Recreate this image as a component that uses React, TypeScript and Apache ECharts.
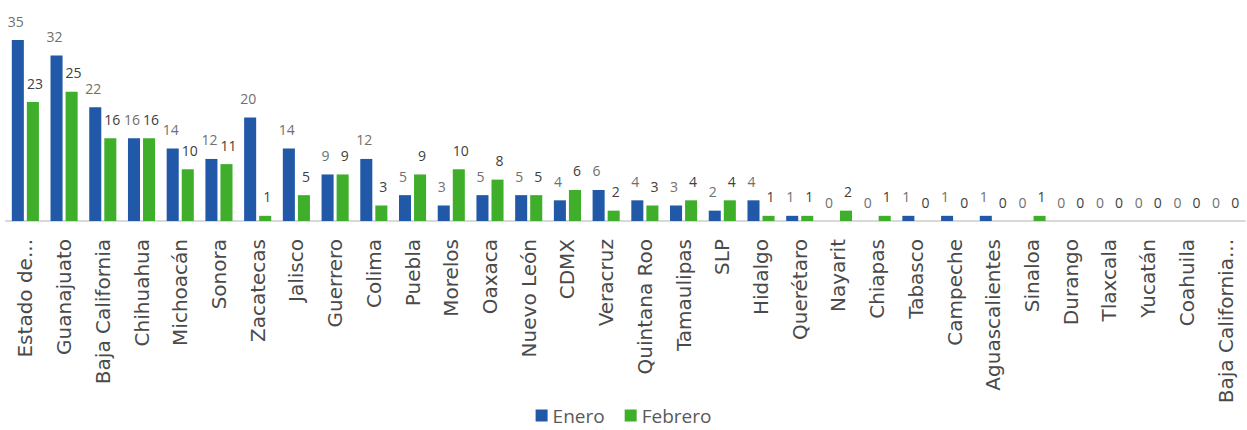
import React, { useEffect, useRef } from "react";
import * as echarts from "echarts";

const categories = [
  "Estado de...", "Guanajuato", "Baja California", "Chihuahua", "Michoacán", "Sonora",
  "Zacatecas", "Jalisco", "Guerrero", "Colima", "Puebla", "Morelos", "Oaxaca",
  "Nuevo León", "CDMX", "Veracruz", "Quintana Roo", "Tamaulipas", "SLP", "Hidalgo",
  "Querétaro", "Nayarit", "Chiapas", "Tabasco", "Campeche", "Aguascalientes",
  "Sinaloa", "Durango", "Tlaxcala", "Yucatán", "Coahuila", "Baja California...",
];
const enero = [35, 32, 22, 16, 14, 12, 20, 14, 9, 12, 5, 3, 5, 5, 4, 6, 4, 3, 2, 4, 1, 0, 0, 1, 1, 1, 0, 0, 0, 0, 0, 0];
const febrero = [23, 25, 16, 16, 10, 11, 1, 5, 9, 3, 9, 10, 8, 5, 6, 2, 3, 4, 4, 1, 1, 2, 1, 0, 0, 0, 1, 0, 0, 0, 0, 0];

export default function App() {
  const ref = useRef<HTMLDivElement>(null);
  useEffect(() => {
    if (!ref.current) return;
    const chart = echarts.init(ref.current, null, { renderer: "svg" });
    chart.setOption({
      animation: false,
      backgroundColor: "#ffffff",
      grid: { left: 6, right: 2, top: 40, bottom: 209, containLabel: false },
      legend: {
        bottom: 0,
        left: "center",
        itemWidth: 12,
        itemHeight: 12,
        itemGap: 20,
        icon: "rect",
        textStyle: { fontFamily: "Open Sans", fontSize: 19, color: "#595959" },
        data: ["Enero", "Febrero"],
      },
      xAxis: {
        type: "category",
        data: categories,
        axisLine: { show: true, lineStyle: { color: "#d9d9d9", width: 2 } },
        axisTick: { show: false },
        axisLabel: {
          rotate: 90,
          interval: 0,
          margin: 18,
          fontFamily: "DejaVu Sans",
          fontSize: 20,
          color: "#4a4a4a",
        },
      },
      yAxis: { type: "value", min: 0, max: 35, show: false, splitLine: { show: false } },
      series: [
        {
          name: "Enero",
          type: "bar",
          data: enero,
          barGap: "25%",
          barCategoryGap: "30%",
          itemStyle: { color: "#2159A8" },
          label: {
            show: true,
            position: "top",
            distance: 12,
            offset: [-2, 0],
            fontFamily: "Open Sans",
            fontSize: 14,
            color: "#707070",
          },
        },
        {
          name: "Febrero",
          type: "bar",
          data: febrero,
          itemStyle: { color: "#3EAE2B" },
          label: {
            show: true,
            position: "top",
            distance: 12,
            offset: [2, 0],
            fontFamily: "Open Sans",
            fontSize: 14,
            color: "#404040",
          },
        },
      ],
    });
    return () => chart.dispose();
  }, []);
  return (
    <div
      ref={ref}
      style={{ position: "fixed", left: 0, top: 0, width: 1247, height: 430 }}
    />
  );
}
